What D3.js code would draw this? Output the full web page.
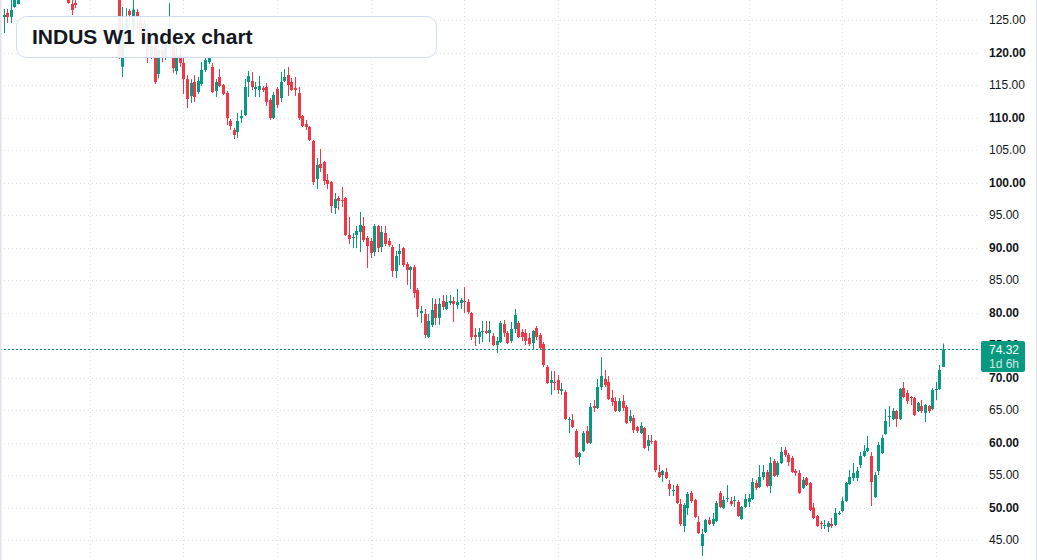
<!DOCTYPE html>
<html>
<head>
<meta charset="utf-8">
<script src="https://cdn.jsdelivr.net/npm/d3@7"></script>
<style>
  html, body { margin: 0; padding: 0; background: #fff; }
  svg { display: block; font-family: "Liberation Sans", Arial, sans-serif; }
</style>
</head>
<body>
<div id="chart"></div>
<script>
// weekly candles
const title = "INDUS W1 index chart";

const opens = [
  125.46,126.08,125.46,127.0,127.46,130.2,131.5,130.8,132.9,134.1,
  133.0,135.4,134.2,132.6,133.5,131.8,130.6,131.4,129.9,127.46,
  127.62,128.6,130.4,131.9,131.0,132.6,134.0,133.1,131.7,132.5,
  131.2,130.1,130.8,117.8,122.0,126.4,124.0,126.23,124.8,122.9,
  123.6,119.6,121.0,116.7,120.4,119.2,121.8,121.0,117.15,119.6,
  118.4,115.9,113.3,115.46,113.92,115.15,117.31,118.54,117.77,114.08,
  116.23,115.0,113.77,109.46,108.08,107.77,109.92,110.38,115.46,115.62,
  114.38,114.23,114.54,114.69,112.69,109.92,114.38,113.0,115.62,116.54,
  115.46,114.54,113.77,110.23,109.0,108.54,106.38,100.54,102.85,103.15,
  100.38,100.08,96.08,97.62,97.31,97.62,91.92,91.46,91.92,92.38,
  93.31,91.46,91.0,89.31,93.31,90.08,92.23,91.0,90.08,86.38,
  89.0,89.92,87.46,86.54,87.0,83.46,79.92,79.77,76.23,78.08,
  81.31,79.15,81.77,80.54,81.46,81.77,81.15,81.46,81.77,81.62,
  79.92,76.54,76.23,77.0,77.15,76.85,76.38,75.0,75.46,78.23,
  76.85,75.62,77.46,78.38,77.0,76.85,76.08,75.31,77.62,76.54,
  75.15,71.62,69.15,69.31,69.62,67.92,67.77,63.46,63.46,61.77,
  57.77,58.69,61.77,59.92,65.62,65.31,68.54,69.77,69.31,66.85,
  66.38,64.85,66.38,65.46,63.31,63.77,62.38,61.46,62.23,59.46,
  60.23,60.23,55.46,55.0,55.46,53.62,52.54,53.31,50.54,47.15,
  49.92,52.23,51.15,47.77,44.08,46.23,48.08,47.46,47.92,52.23,
  49.92,51.31,51.0,51.0,50.85,48.23,50.08,50.85,51.31,53.77,
  53.15,54.69,55.46,53.31,57.15,55.0,56.85,58.85,58.08,57.62,
  55.62,55.31,53.0,54.54,53.77,50.0,48.69,47.62,47.15,47.0,
  47.46,47.31,49.0,49.46,51.0,53.62,54.54,54.54,56.54,57.92,
  58.69,57.92,51.62,55.62,58.38,61.31,63.92,63.62,64.85,63.62,
  68.38,67.62,67.0,66.85,64.85,65.62,64.54,65.62,65.15,68.08,
  68.23,71.62
];
const highs = [
  126.69,126.69,128.08,129.6,131.0,132.4,132.8,133.6,135.2,135.0,
  136.1,136.6,134.9,134.3,133.9,132.4,132.0,131.8,130.6,128.08,
  128.2,131.0,132.5,132.8,133.4,134.8,134.6,133.5,133.3,132.9,
  131.9,131.5,131.3,127.0,126.8,126.7,128.6,126.7,125.5,125.0,
  124.2,122.6,121.8,121.5,121.3,122.5,127.6,122.0,121.0,120.8,
  119.3,116.5,115.9,116.5,116.23,118.54,119.31,119.46,118.4,115.92,
  117.46,115.15,114.08,109.77,108.4,110.69,111.15,115.92,117.15,117.0,
  115.46,116.38,114.85,115.31,113.0,113.92,114.69,117.0,117.46,117.77,
  116.08,116.23,114.69,110.38,109.62,108.69,106.54,103.77,105.15,103.31,
  101.31,100.23,98.38,97.92,99.31,97.77,94.69,92.23,93.31,95.46,
  94.69,91.77,91.46,93.62,93.46,93.31,93.31,91.46,90.38,89.46,
  90.54,90.08,87.77,87.15,87.31,83.77,81.0,80.54,79.77,82.23,
  82.08,82.23,82.69,82.69,82.69,82.38,83.62,82.23,83.92,82.08,
  80.08,77.62,77.62,78.69,78.69,78.69,76.85,76.23,78.69,78.85,
  77.15,78.54,80.54,78.69,77.46,77.46,76.85,77.31,77.92,76.85,
  75.46,71.92,71.0,71.0,70.38,69.15,68.08,63.92,64.38,62.08,
  58.54,61.77,62.54,66.08,66.54,69.77,73.15,71.15,70.23,68.08,
  67.0,66.85,67.31,65.77,65.0,64.23,62.54,63.15,62.38,61.15,
  61.15,60.38,56.54,55.77,56.08,54.23,53.46,53.62,51.31,50.69,
  52.38,52.54,51.31,48.69,46.69,48.23,48.54,49.15,51.0,52.54,
  51.77,53.46,51.62,51.77,51.15,50.23,52.08,52.08,54.54,54.23,
  56.54,56.54,55.77,57.77,57.46,57.15,59.31,59.31,58.38,57.92,
  55.92,55.77,54.69,54.69,53.92,50.69,48.85,47.92,48.08,47.92,
  48.38,49.92,49.46,51.62,53.92,55.77,56.85,56.23,58.54,59.62,
  61.0,58.54,55.46,60.08,61.15,65.15,65.62,65.31,65.0,68.38,
  69.31,68.08,67.15,67.0,66.23,66.54,65.92,65.77,68.38,69.31,
  71.92,75.23
];
const lows = [
  123.0,124.54,124.54,126.9,127.4,129.6,130.0,130.3,132.0,132.2,
  132.5,133.4,131.9,131.7,130.9,129.8,129.7,129.0,127.5,125.77,
  126.85,128.4,129.8,130.2,130.5,132.0,132.4,131.0,130.9,130.4,
  129.4,129.2,119.0,116.23,121.0,124.0,122.5,123.0,122.0,121.5,
  118.4,119.0,115.15,116.0,118.5,118.8,121.0,116.9,116.6,117.8,
  113.6,111.46,112.25,112.4,113.6,114.85,117.0,118.23,113.77,113.15,
  114.7,113.46,108.85,108.08,106.69,106.85,109.15,110.23,113.15,114.23,
  113.15,113.15,113.92,111.77,109.62,109.77,111.46,112.38,115.46,113.31,
  114.08,113.31,109.62,108.54,108.08,106.38,99.62,99.0,101.62,99.62,
  99.0,95.31,95.15,95.77,96.23,91.77,90.54,89.92,89.92,89.31,
  90.85,86.85,88.38,88.69,89.31,89.31,90.23,90.08,85.46,85.31,
  87.31,87.0,84.23,83.62,82.23,79.31,78.38,76.08,76.08,77.77,
  78.08,78.08,80.38,80.38,81.15,78.54,80.54,80.54,79.92,79.77,
  75.77,74.85,75.15,75.46,76.69,75.46,74.85,73.77,75.31,76.23,
  75.15,75.31,76.85,76.08,75.62,75.0,74.85,74.23,75.77,74.23,
  71.62,69.0,67.31,68.08,67.46,67.31,63.46,61.46,62.23,57.62,
  56.54,58.54,59.77,59.77,64.69,65.15,68.08,68.54,66.54,65.62,
  64.69,64.69,64.85,62.85,63.0,61.46,61.46,61.31,59.0,58.69,
  59.77,55.46,54.54,53.92,54.38,51.77,51.77,50.54,47.15,46.23,
  48.85,50.69,48.38,45.92,42.54,46.08,47.31,47.15,47.77,49.92,
  49.77,50.85,50.23,50.08,48.54,48.08,49.92,50.08,51.15,52.69,
  53.0,54.23,53.1,52.23,54.7,54.69,56.69,57.77,56.38,55.31,
  54.85,52.1,52.85,53.31,49.46,48.23,47.0,46.69,46.69,46.23,
  46.85,47.15,48.85,49.31,50.85,53.5,54.08,54.08,56.08,57.77,
  58.54,50.23,51.46,55.0,58.2,61.2,62.38,63.46,62.38,63.46,
  66.85,65.92,65.77,64.08,64.69,64.54,63.15,64.54,65.0,66.54,
  68.08,71.62
];
const closes = [
  125.77,125.46,126.54,129.0,130.2,131.5,130.8,132.9,134.1,133.0,
  135.4,134.2,132.6,133.5,131.8,130.6,131.4,129.9,127.62,126.54,
  127.31,130.4,131.9,131.0,132.6,134.0,133.1,131.7,132.5,131.2,
  130.1,130.8,119.5,123.5,125.2,125.77,126.6,125.46,122.7,124.4,
  119.6,121.0,115.46,120.4,119.2,121.8,123.5,117.6,119.6,118.4,
  115.9,112.85,115.3,113.15,115.62,117.31,118.85,119.15,113.92,115.46,
  114.85,113.62,109.92,108.69,107.31,109.46,110.23,114.69,116.38,114.69,
  114.69,114.85,114.23,112.38,109.92,113.46,111.92,115.46,116.23,115.0,
  114.23,114.23,109.92,108.69,108.54,106.54,100.08,102.69,102.23,100.23,
  99.77,96.38,97.46,97.15,97.23,91.92,91.31,91.62,92.54,93.46,
  91.15,90.23,89.15,93.31,89.92,92.38,90.54,90.38,86.38,88.69,
  89.46,87.31,86.54,87.0,83.0,80.54,80.23,76.54,78.69,80.38,
  79.15,81.31,80.85,81.62,81.77,81.31,81.62,81.92,81.62,80.08,
  76.23,76.23,77.0,77.15,76.85,77.31,75.0,75.62,78.38,76.85,
  75.31,77.46,79.62,76.23,76.23,75.62,75.15,77.15,76.23,74.54,
  71.92,69.15,69.62,69.15,68.08,68.23,63.62,63.62,62.38,57.77,
  58.38,61.46,59.92,65.46,65.31,68.54,70.23,68.85,66.69,66.23,
  64.85,66.38,65.31,63.0,64.08,61.92,61.77,62.54,59.15,60.38,
  60.08,55.77,54.69,55.62,54.54,52.85,52.69,50.69,47.46,50.38,
  52.08,51.0,48.54,46.08,45.92,48.08,47.46,48.23,50.69,50.08,
  51.15,51.46,50.54,51.15,48.69,50.08,51.31,51.46,53.92,53.0,
  54.69,55.46,53.31,56.85,54.85,56.85,58.54,58.08,57.0,55.46,
  55.31,52.23,54.23,53.46,49.62,48.38,47.15,47.46,47.31,47.62,
  47.15,49.15,49.15,51.0,53.77,54.69,55.31,55.62,57.92,58.69,
  59.15,53.92,55.0,59.62,60.69,63.31,64.08,64.85,63.62,68.23,
  67.0,66.38,66.85,64.23,66.08,64.85,65.77,64.85,68.08,68.23,
  71.15,74.32
];

const priceTicks = [45, 50, 55, 60, 65, 70, 75, 80, 85, 90, 95, 100, 105, 110, 115, 120, 125];
const timeGridBars = [24, 50, 76, 102, 128, 154, 181, 207, 233, 259];
const lastPrice = 74.32;
const countdown = "1d 6h";

const w = 1037, h = 560, plotRight = 980;
const upColor = "#089981", downColor = "#f23645";

const candles = d3.range(opens.length).map(i => ({
  i, o: opens[i], h: highs[i], l: lows[i], c: closes[i]
}));

const x = d3.scaleLinear().domain([0, candles.length - 1]).range([3.5, 943]);
const y = d3.scaleLinear().domain([45, 125]).range([540, 20]);

const svg = d3.select("#chart").append("svg")
  .attr("width", w)
  .attr("height", h);

svg.append("rect").attr("width", w).attr("height", h).attr("fill", "#fff");

// grid
const grid = svg.append("g").attr("stroke", "#dcdfe6").attr("stroke-dasharray", "1,3");
grid.selectAll(".hg").data(priceTicks).join("line")
  .attr("x1", 0).attr("x2", plotRight)
  .attr("y1", d => Math.round(y(d)) + 0.5).attr("y2", d => Math.round(y(d)) + 0.5);
grid.selectAll(".vg").data(timeGridBars).join("line")
  .attr("x1", d => Math.round(x(d)) + 0.5).attr("x2", d => Math.round(x(d)) + 0.5)
  .attr("y1", 0).attr("y2", h);

// candles
const cg = svg.append("g");
cg.selectAll("line").data(candles).join("line")
  .attr("x1", d => Math.round(x(d.i)) + 0.5)
  .attr("x2", d => Math.round(x(d.i)) + 0.5)
  .attr("y1", d => y(d.h))
  .attr("y2", d => y(d.l))
  .attr("stroke", d => d.c >= d.o ? upColor : downColor)
  .attr("stroke-width", 1);
cg.selectAll("rect").data(candles).join("rect")
  .attr("x", d => Math.round(x(d.i)) - 1)
  .attr("width", 3)
  .attr("y", d => y(Math.max(d.o, d.c)))
  .attr("height", d => Math.max(1, Math.abs(y(d.o) - y(d.c))))
  .attr("fill", d => d.c >= d.o ? upColor : downColor);

// last price line
svg.append("line")
  .attr("x1", 0).attr("x2", plotRight)
  .attr("y1", Math.round(y(lastPrice)) + 0.5).attr("y2", Math.round(y(lastPrice)) + 0.5)
  .attr("stroke", upColor)
  .attr("stroke-dasharray", "2,2")
  .attr("shape-rendering", "crispEdges");

// price axis
const yAxis = d3.axisRight(y)
  .tickValues(priceTicks)
  .tickSize(0)
  .tickPadding(0)
  .tickFormat(d3.format(".2f"));
const ax = svg.append("g")
  .attr("transform", "translate(989,0)")
  .call(yAxis);
ax.select(".domain").remove();
ax.attr("font-family", null).attr("font-size", null);
ax.selectAll("text")
  .attr("fill", "#131722")
  .style("font-size", "12px")
  .style("font-weight", d => d % 10 === 0 ? "bold" : "normal");

// last price badge
const by = y(lastPrice);
svg.append("rect")
  .attr("x", 981).attr("y", Math.round(by) - 8)
  .attr("width", 44).attr("height", 31)
  .attr("rx", 2)
  .attr("fill", upColor);
svg.append("text")
  .attr("x", 989).attr("y", Math.round(by) + 4.5)
  .attr("fill", "#fff").style("font-size", "12px")
  .text(lastPrice.toFixed(2));
svg.append("text")
  .attr("x", 989).attr("y", Math.round(by) + 19)
  .attr("fill", "#fff").attr("fill-opacity", 0.8).style("font-size", "12px")
  .text(countdown);

// borders
svg.append("line").attr("x1", 0.5).attr("x2", 0.5).attr("y1", 0).attr("y2", h)
  .attr("stroke", "#e0e3eb").attr("stroke-width", 2);
svg.append("line").attr("x1", 1036.5).attr("x2", 1036.5).attr("y1", 0).attr("y2", h)
  .attr("stroke", "#e0e3eb");

// title box
svg.append("rect")
  .attr("x", 16.5).attr("y", 16.5)
  .attr("width", 420).attr("height", 41)
  .attr("rx", 10)
  .attr("fill", "#fff").attr("fill-opacity", 0.9)
  .attr("stroke", "#cfdcf3");
svg.append("text")
  .attr("x", 32).attr("y", 44)
  .attr("fill", "#131722")
  .style("font-size", "21px")
  .style("font-weight", "bold")
  .text(title);
</script>
</body>
</html>
